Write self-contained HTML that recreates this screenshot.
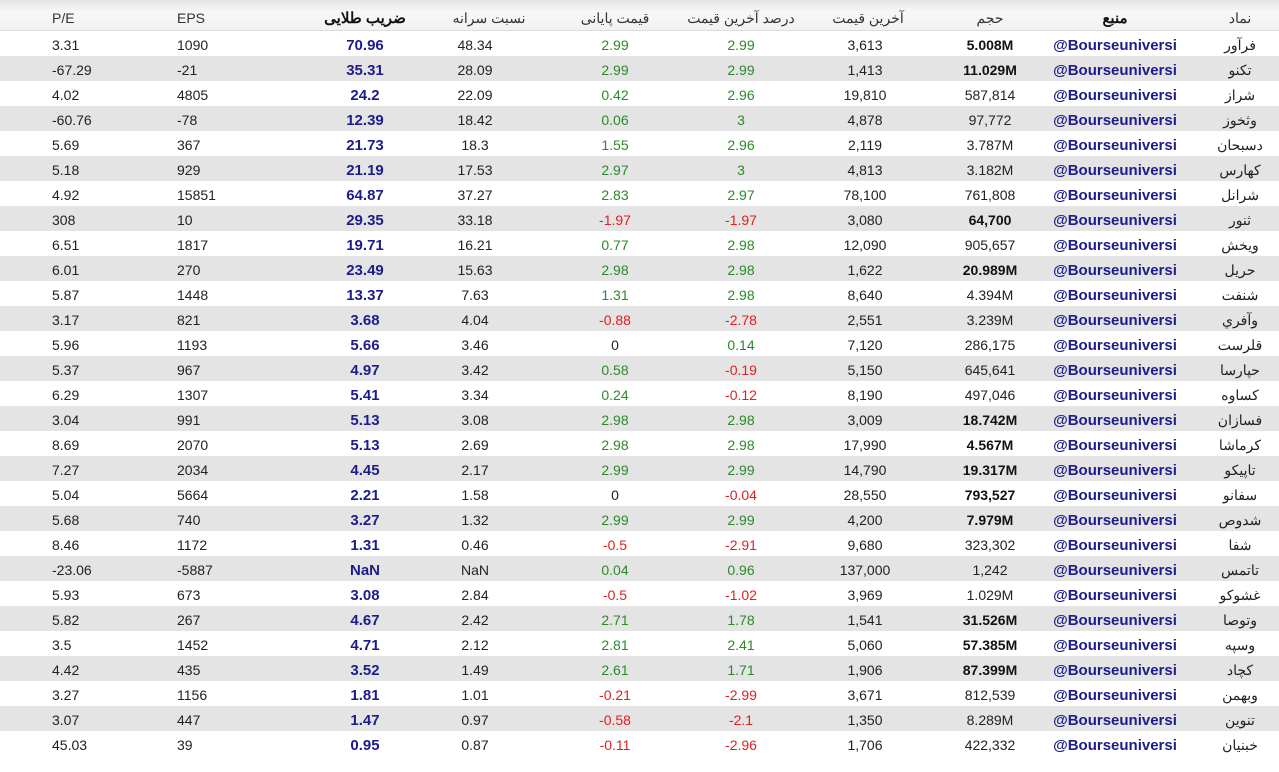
<!DOCTYPE html>
<html><head><meta charset="utf-8">
<style>
body{margin:0;width:1279px;height:772px;background:#fff;overflow:hidden;font-family:"Liberation Sans","Noto Sans CJK SC",sans-serif;font-size:14px;color:#222}
.h{position:absolute;left:0;top:0;width:1279px;height:31px;background:linear-gradient(#e4e4e4,#f7f7f7 40%,#f2f2f2);border-bottom:1px solid #ddd;box-sizing:border-box}
.r{position:absolute;left:0;width:1279px;height:25px}
.r.g{background:#e4e4e4}
.r span,.h span{position:absolute;top:2px;line-height:25px;white-space:nowrap}
.h span{top:0;line-height:37px;color:#333}
.a{left:52px}.b{left:177px}
.c,.d,.e,.f,.k,.v,.s,.n{width:130px;text-align:center}
.c{left:300px;font-weight:bold;color:#1c1c8c;font-size:15px}
.d{left:410px}.e{left:550px}.f{left:676px}.k{left:800px}.v{left:925px}
.s{left:1050px;font-weight:bold;color:#1c1c8c;font-size:15px}
.n{left:1175px}
.h .d{left:424px}.h .k{left:803px}.h .c,.h .s{color:#111}
.G{color:#2a8a2a}.R{color:#e02020}.B{font-weight:bold;color:#111}
</style></head><body>
<div class="h"><span class="a">P/E</span><span class="b">EPS</span><span class="c">ضریب طلایی</span><span class="d">نسبت سرانه</span><span class="e">قیمت پایانی</span><span class="f">درصد آخرین قیمت</span><span class="k">آخرین قیمت</span><span class="v">حجم</span><span class="s">منبع</span><span class="n">نماد</span></div>

<div class="r" style="top:31px"><span class="a">3.31</span><span class="b">1090</span><span class="c">70.96</span><span class="d">48.34</span><span class="e G">2.99</span><span class="f G">2.99</span><span class="k">3,613</span><span class="v B">5.008M</span><span class="s">@Bourseuniversi</span><span class="n">فرآور</span></div>
<div class="r g" style="top:56px"><span class="a">-67.29</span><span class="b">-21</span><span class="c">35.31</span><span class="d">28.09</span><span class="e G">2.99</span><span class="f G">2.99</span><span class="k">1,413</span><span class="v B">11.029M</span><span class="s">@Bourseuniversi</span><span class="n">تکنو</span></div>
<div class="r" style="top:81px"><span class="a">4.02</span><span class="b">4805</span><span class="c">24.2</span><span class="d">22.09</span><span class="e G">0.42</span><span class="f G">2.96</span><span class="k">19,810</span><span class="v">587,814</span><span class="s">@Bourseuniversi</span><span class="n">شراز</span></div>
<div class="r g" style="top:106px"><span class="a">-60.76</span><span class="b">-78</span><span class="c">12.39</span><span class="d">18.42</span><span class="e G">0.06</span><span class="f G">3</span><span class="k">4,878</span><span class="v">97,772</span><span class="s">@Bourseuniversi</span><span class="n">وثخوز</span></div>
<div class="r" style="top:131px"><span class="a">5.69</span><span class="b">367</span><span class="c">21.73</span><span class="d">18.3</span><span class="e G">1.55</span><span class="f G">2.96</span><span class="k">2,119</span><span class="v">3.787M</span><span class="s">@Bourseuniversi</span><span class="n">دسبحان</span></div>
<div class="r g" style="top:156px"><span class="a">5.18</span><span class="b">929</span><span class="c">21.19</span><span class="d">17.53</span><span class="e G">2.97</span><span class="f G">3</span><span class="k">4,813</span><span class="v">3.182M</span><span class="s">@Bourseuniversi</span><span class="n">کهارس</span></div>
<div class="r" style="top:181px"><span class="a">4.92</span><span class="b">15851</span><span class="c">64.87</span><span class="d">37.27</span><span class="e G">2.83</span><span class="f G">2.97</span><span class="k">78,100</span><span class="v">761,808</span><span class="s">@Bourseuniversi</span><span class="n">شرانل</span></div>
<div class="r g" style="top:206px"><span class="a">308</span><span class="b">10</span><span class="c">29.35</span><span class="d">33.18</span><span class="e R">-1.97</span><span class="f R">-1.97</span><span class="k">3,080</span><span class="v B">64,700</span><span class="s">@Bourseuniversi</span><span class="n">ثنور</span></div>
<div class="r" style="top:231px"><span class="a">6.51</span><span class="b">1817</span><span class="c">19.71</span><span class="d">16.21</span><span class="e G">0.77</span><span class="f G">2.98</span><span class="k">12,090</span><span class="v">905,657</span><span class="s">@Bourseuniversi</span><span class="n">ویخش</span></div>
<div class="r g" style="top:256px"><span class="a">6.01</span><span class="b">270</span><span class="c">23.49</span><span class="d">15.63</span><span class="e G">2.98</span><span class="f G">2.98</span><span class="k">1,622</span><span class="v B">20.989M</span><span class="s">@Bourseuniversi</span><span class="n">حریل</span></div>
<div class="r" style="top:281px"><span class="a">5.87</span><span class="b">1448</span><span class="c">13.37</span><span class="d">7.63</span><span class="e G">1.31</span><span class="f G">2.98</span><span class="k">8,640</span><span class="v">4.394M</span><span class="s">@Bourseuniversi</span><span class="n">شنفت</span></div>
<div class="r g" style="top:306px"><span class="a">3.17</span><span class="b">821</span><span class="c">3.68</span><span class="d">4.04</span><span class="e R">-0.88</span><span class="f R">-2.78</span><span class="k">2,551</span><span class="v">3.239M</span><span class="s">@Bourseuniversi</span><span class="n">وآفري</span></div>
<div class="r" style="top:331px"><span class="a">5.96</span><span class="b">1193</span><span class="c">5.66</span><span class="d">3.46</span><span class="e">0</span><span class="f G">0.14</span><span class="k">7,120</span><span class="v">286,175</span><span class="s">@Bourseuniversi</span><span class="n">قلرست</span></div>
<div class="r g" style="top:356px"><span class="a">5.37</span><span class="b">967</span><span class="c">4.97</span><span class="d">3.42</span><span class="e G">0.58</span><span class="f R">-0.19</span><span class="k">5,150</span><span class="v">645,641</span><span class="s">@Bourseuniversi</span><span class="n">حپارسا</span></div>
<div class="r" style="top:381px"><span class="a">6.29</span><span class="b">1307</span><span class="c">5.41</span><span class="d">3.34</span><span class="e G">0.24</span><span class="f R">-0.12</span><span class="k">8,190</span><span class="v">497,046</span><span class="s">@Bourseuniversi</span><span class="n">کساوه</span></div>
<div class="r g" style="top:406px"><span class="a">3.04</span><span class="b">991</span><span class="c">5.13</span><span class="d">3.08</span><span class="e G">2.98</span><span class="f G">2.98</span><span class="k">3,009</span><span class="v B">18.742M</span><span class="s">@Bourseuniversi</span><span class="n">فسازان</span></div>
<div class="r" style="top:431px"><span class="a">8.69</span><span class="b">2070</span><span class="c">5.13</span><span class="d">2.69</span><span class="e G">2.98</span><span class="f G">2.98</span><span class="k">17,990</span><span class="v B">4.567M</span><span class="s">@Bourseuniversi</span><span class="n">کرماشا</span></div>
<div class="r g" style="top:456px"><span class="a">7.27</span><span class="b">2034</span><span class="c">4.45</span><span class="d">2.17</span><span class="e G">2.99</span><span class="f G">2.99</span><span class="k">14,790</span><span class="v B">19.317M</span><span class="s">@Bourseuniversi</span><span class="n">تاپیکو</span></div>
<div class="r" style="top:481px"><span class="a">5.04</span><span class="b">5664</span><span class="c">2.21</span><span class="d">1.58</span><span class="e">0</span><span class="f R">-0.04</span><span class="k">28,550</span><span class="v B">793,527</span><span class="s">@Bourseuniversi</span><span class="n">سفانو</span></div>
<div class="r g" style="top:506px"><span class="a">5.68</span><span class="b">740</span><span class="c">3.27</span><span class="d">1.32</span><span class="e G">2.99</span><span class="f G">2.99</span><span class="k">4,200</span><span class="v B">7.979M</span><span class="s">@Bourseuniversi</span><span class="n">شدوص</span></div>
<div class="r" style="top:531px"><span class="a">8.46</span><span class="b">1172</span><span class="c">1.31</span><span class="d">0.46</span><span class="e R">-0.5</span><span class="f R">-2.91</span><span class="k">9,680</span><span class="v">323,302</span><span class="s">@Bourseuniversi</span><span class="n">شفا</span></div>
<div class="r g" style="top:556px"><span class="a">-23.06</span><span class="b">-5887</span><span class="c">NaN</span><span class="d">NaN</span><span class="e G">0.04</span><span class="f G">0.96</span><span class="k">137,000</span><span class="v">1,242</span><span class="s">@Bourseuniversi</span><span class="n">تاتمس</span></div>
<div class="r" style="top:581px"><span class="a">5.93</span><span class="b">673</span><span class="c">3.08</span><span class="d">2.84</span><span class="e R">-0.5</span><span class="f R">-1.02</span><span class="k">3,969</span><span class="v">1.029M</span><span class="s">@Bourseuniversi</span><span class="n">غشوکو</span></div>
<div class="r g" style="top:606px"><span class="a">5.82</span><span class="b">267</span><span class="c">4.67</span><span class="d">2.42</span><span class="e G">2.71</span><span class="f G">1.78</span><span class="k">1,541</span><span class="v B">31.526M</span><span class="s">@Bourseuniversi</span><span class="n">وتوصا</span></div>
<div class="r" style="top:631px"><span class="a">3.5</span><span class="b">1452</span><span class="c">4.71</span><span class="d">2.12</span><span class="e G">2.81</span><span class="f G">2.41</span><span class="k">5,060</span><span class="v B">57.385M</span><span class="s">@Bourseuniversi</span><span class="n">وسپه</span></div>
<div class="r g" style="top:656px"><span class="a">4.42</span><span class="b">435</span><span class="c">3.52</span><span class="d">1.49</span><span class="e G">2.61</span><span class="f G">1.71</span><span class="k">1,906</span><span class="v B">87.399M</span><span class="s">@Bourseuniversi</span><span class="n">کچاد</span></div>
<div class="r" style="top:681px"><span class="a">3.27</span><span class="b">1156</span><span class="c">1.81</span><span class="d">1.01</span><span class="e R">-0.21</span><span class="f R">-2.99</span><span class="k">3,671</span><span class="v">812,539</span><span class="s">@Bourseuniversi</span><span class="n">وبهمن</span></div>
<div class="r g" style="top:706px"><span class="a">3.07</span><span class="b">447</span><span class="c">1.47</span><span class="d">0.97</span><span class="e R">-0.58</span><span class="f R">-2.1</span><span class="k">1,350</span><span class="v">8.289M</span><span class="s">@Bourseuniversi</span><span class="n">تنوین</span></div>
<div class="r" style="top:731px"><span class="a">45.03</span><span class="b">39</span><span class="c">0.95</span><span class="d">0.87</span><span class="e R">-0.11</span><span class="f R">-2.96</span><span class="k">1,706</span><span class="v">422,332</span><span class="s">@Bourseuniversi</span><span class="n">خبنیان</span></div>
</body></html>
